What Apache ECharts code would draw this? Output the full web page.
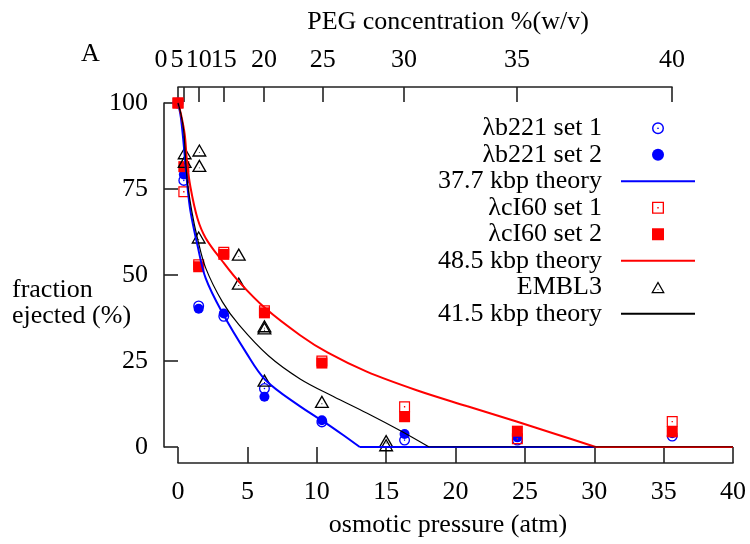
<!DOCTYPE html>
<html><head><meta charset="utf-8">
<script src="https://cdn.jsdelivr.net/npm/echarts@6/dist/echarts.min.js"></script>
<style>html,body{margin:0;padding:0;background:#fff}#c{width:750px;height:544px}</style>
</head><body><div id="c"></div>
<script>
const FONT = '"Liberation Serif", "Times New Roman", serif';

// Top axis: PEG concentration tick positions (in atm) and their labels
const pegTickPos = [0, 0.4, 1.5, 3.3, 6.2, 10.45, 16.3, 24.45, 35.64];
const pegLabels = ['0', '5', '10', '15', '20', '25', '30', '35', '40'];

// Data [osmotic pressure (atm), fraction ejected (%)]
const b221Set1 = [[0,100],[0.42,77.5],[1.49,41.0],[3.3,38.0],[6.23,17.0],[10.37,7.3],[16.33,2.0],[24.46,2.0],[35.62,3.2]];
const b221Set2 = [[0,100],[0.42,79.2],[1.49,40.2],[3.3,38.8],[6.23,14.6],[10.37,7.8],[16.33,3.8],[24.46,2.8],[35.62,4.0]];
const cI60Set1 = [[0,100],[0.42,74.2],[1.49,53.0],[3.3,56.6],[6.23,39.6],[10.37,25.0],[16.33,11.7],[24.46,2.4],[35.62,7.4]];
const cI60Set2 = [[0,100],[0.42,81.5],[1.49,52.4],[3.3,56.0],[6.23,39.0],[10.37,24.4],[16.33,8.8],[24.46,4.6],[35.62,4.4]];
const embl3 = [[0.48,85.5],[0.48,83.0],[1.54,86.3],[1.54,81.8],[1.49,61.0],[4.38,56.0],[4.38,47.6],[6.23,35.2],[6.23,34.6],[6.23,19.4],[10.37,13.2],[15.0,1.8],[15.0,0.6]];

// Theory curves: decaying part, then flat at zero up to 40 atm
const theory377 = [[0,100],[0.2,96],[0.41,88],[0.65,77],[0.9,68.5],[1.4,58.7],[2.0,49],[3.2,39],[4.9,27.5],[6.3,19.5],[8.8,11.8],[10.5,7.4],[11.9,3.5],[13.1,0]];
const theory485 = [[0,100],[0.2,97],[0.48,91],[0.65,83],[0.9,75.5],[1.4,66.5],[2.0,60.7],[3.2,54],[4.4,48],[6.3,40.3],[8.8,32.5],[10.8,27.4],[13.6,21.9],[17.2,16.5],[20.8,11.9],[24.4,7.4],[27.2,3.8],[30.1,0]];
const theory415 = [[0,100],[0.2,97],[0.41,92],[0.65,78],[1.0,68.4],[1.4,60.7],[2.0,52],[3.2,42.2],[4.4,35.5],[6.5,26.6],[8.8,19.8],[11.2,14.7],[13.6,9.9],[16,4.8],[18.1,0]];
const zeroEnd = 40;

const names = ['\u03bbb221 set 1', '\u03bbb221 set 2', '37.7 kbp theory', '\u03bbcI60 set 1', '\u03bbcI60 set 2', '48.5 kbp theory', 'EMBL3', '41.5 kbp theory'];

// marker shapes (open with centre dot, like gnuplot)
const ringCircle = 'path://M0,50 A50,50 0 1,0 100,50 A50,50 0 1,0 0,50 Z M12,50 A38,38 0 1,1 88,50 A38,38 0 1,1 12,50 Z M43,50 A7,7 0 1,0 57,50 A7,7 0 1,0 43,50 Z';
const ringSquare = 'path://M0,0 L100,0 L100,100 L0,100 Z M11,11 L11,89 L89,89 L89,11 Z M44,44 L56,44 L56,56 L44,56 Z';
const fullSquare = 'path://M0,0 L100,0 L100,100 L0,100 Z';
const ringTri = 'path://M50,0 L0,88 L100,88 Z M50,18 L84.5,79 L15.5,79 Z M47,56 L47,62 L53,62 L53,56 Z';

function withTail(curve) {
  const last = curve[curve.length - 1];
  return curve.concat([['-', '-'], [last[0], 0], [zeroEnd, 0]]);
}

const axisColor = '#222';
const txt = {fontFamily: FONT, fontSize: 26, color: '#000'};
const ttl = Object.assign({fontWeight: 'normal', lineHeight: 26}, txt);

const chart = echarts.init(document.getElementById('c'), null, {renderer: 'canvas'});
chart.setOption({
  animation: false,
  backgroundColor: '#fff',
  title: [
    {text: 'A', left: 81, top: 41, padding: 0, textStyle: ttl},
    {text: 'PEG concentration %(w/v)', left: 448, top: 9, textAlign: 'center', padding: 0, textStyle: ttl},
    {text: 'osmotic pressure (atm)', left: 448, top: 512, textAlign: 'center', padding: 0, textStyle: ttl},
    {text: 'fraction\nejected (%)', left: 12, top: 277, padding: 0, textStyle: ttl}
  ],
  legend: {
    data: names.map((n, i) => (i === 2 || i === 5 || i === 7) ? {name: n, itemStyle: {opacity: 0}} : {name: n}),
    orient: 'vertical',
    align: 'right',
    right: 54,
    top: 115,
    padding: 0,
    itemGap: 0,
    itemWidth: 74,
    itemHeight: 12,
    textStyle: Object.assign({lineHeight: 26.5, padding: [0, 14, 0, 0]}, txt)
  },
  grid: [
    {left: 178, right: 17, top: 103, bottom: 97},
    {left: 178, right: 78, top: 103, bottom: 97}
  ],
  xAxis: [
    {
      gridIndex: 0, type: 'value', min: 0, max: 40, interval: 5, position: 'bottom', offset: 16,
      axisLine: {show: true, onZero: false, lineStyle: {color: axisColor, width: 1.6}},
      axisTick: {show: true, inside: true, length: 16, lineStyle: {color: axisColor, width: 1.6}},
      axisLabel: Object.assign({margin: 16}, txt),
      splitLine: {show: false}
    },
    {
      gridIndex: 1, type: 'value', min: 0, max: 35.64, position: 'top', offset: 16,
      axisLine: {show: true, onZero: false, lineStyle: {color: axisColor, width: 1.6}},
      axisTick: {show: true, inside: true, length: 15, customValues: pegTickPos, lineStyle: {color: axisColor, width: 1.6}},
      axisLabel: Object.assign({
        margin: 14,
        customValues: pegTickPos,
        formatter: function (v) {
          let i = pegTickPos.findIndex(p => Math.abs(p - v) < 1e-6);
          if (i === 0) return '{s0|' + pegLabels[0] + '}';
          if (i === 1) return '{s5|' + pegLabels[1] + '}';
          return i >= 0 ? pegLabels[i] : '';
        },
        rich: {
          s0: Object.assign({padding: [0, 34, 0, 0]}, txt),
          s5: Object.assign({padding: [0, 13, 0, 0]}, txt)
        }
      }, txt),
      splitLine: {show: false}
    }
  ],
  yAxis: [
    {
      gridIndex: 0, type: 'value', min: 0, max: 100, interval: 25, offset: 14,
      axisLine: {show: true, onZero: false, lineStyle: {color: axisColor, width: 1.6}},
      axisTick: {show: true, inside: true, length: 14, lineStyle: {color: axisColor, width: 1.6}},
      axisLabel: Object.assign({margin: 16}, txt),
      splitLine: {show: false}
    },
    {gridIndex: 1, type: 'value', min: 0, max: 100, show: false}
  ],
  series: [
    {name: names[0], type: 'scatter', data: b221Set1, symbol: ringCircle, symbolSize: 11, itemStyle: {color: '#0000ff', opacity: 1}},
    {name: names[1], type: 'scatter', data: b221Set2, symbol: 'circle', symbolSize: 10, itemStyle: {color: '#0000ff', opacity: 1}},
    {name: names[2], type: 'line', data: withTail(theory377), showSymbol: false, symbol: 'none', smooth: 0.35, connectNulls: false, lineStyle: {color: '#0000ff', width: 2}, itemStyle: {color: '#0000ff'}},
    {name: names[3], type: 'scatter', data: cI60Set1, symbol: ringSquare, symbolSize: 11, itemStyle: {color: '#ff0000', opacity: 1}},
    {name: names[4], type: 'scatter', data: cI60Set2, symbol: fullSquare, symbolSize: 11, itemStyle: {color: '#ff0000', opacity: 1}},
    {name: names[5], type: 'line', data: withTail(theory485), showSymbol: false, symbol: 'none', smooth: 0.35, connectNulls: false, lineStyle: {color: '#ff0000', width: 2}, itemStyle: {color: '#ff0000'}},
    {name: names[6], type: 'scatter', data: embl3, symbol: ringTri, symbolSize: [15, 13], itemStyle: {color: '#000', opacity: 1}},
    {name: names[7], type: 'line', data: withTail(theory415), showSymbol: false, symbol: 'none', smooth: 0.35, connectNulls: false, lineStyle: {color: '#000', width: 1.2}, itemStyle: {color: '#000'}}
  ]
});
</script>
</body></html>
